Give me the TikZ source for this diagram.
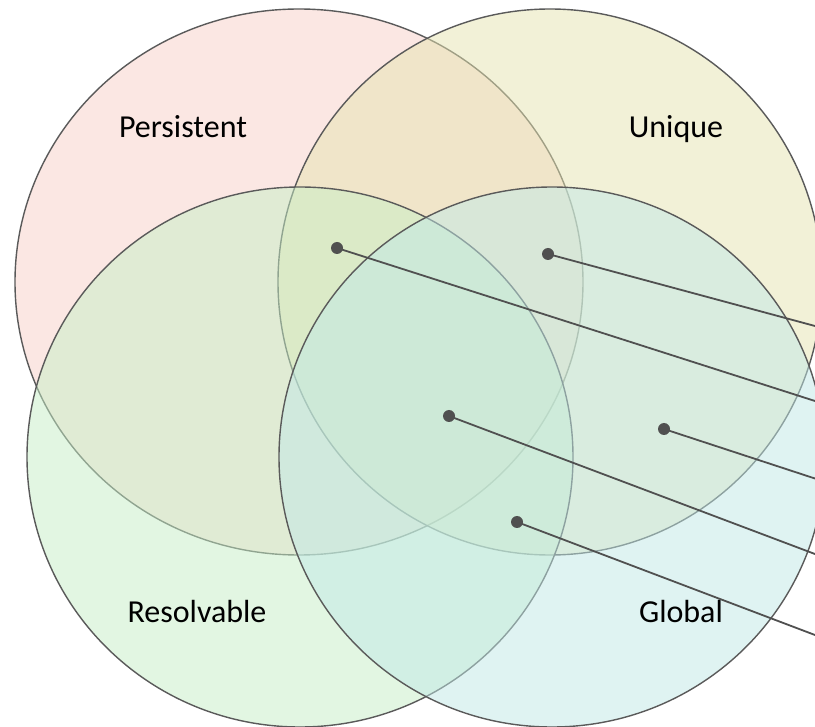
\documentclass[tikz,border=0pt]{standalone}
\usepackage{fontspec}
\setmainfont{Carlito}
\usetikzlibrary{shapes.geometric}

% base tints of the four sets (shown at half opacity)
\definecolor{pinkset}{RGB}{249,209,201}
\definecolor{yellowset}{RGB}{231,229,177}
\definecolor{greenset}{RGB}{199,239,199}
\definecolor{cyanset}{RGB}{193,233,231}
\definecolor{edgegray}{RGB}{90,90,90}
\definecolor{pingray}{RGB}{80,80,80}

\begin{document}
\begin{tikzpicture}[x=1pt,y=-1pt,
  setshape/.style={ellipse, draw=edgegray, line width=1.4pt, fill opacity=0.5,
                   draw opacity=1, inner sep=0pt, outer sep=0pt},
  settitle/.style={anchor=base, font=\fontsize{32}{38}\selectfont, text=black},
  pin/.style={circle, fill=pingray, inner sep=0pt, minimum size=12pt},
  leader/.style={draw=pingray, line width=1.8pt}]

\clip (0,0) rectangle (815,727);
\fill[white] (0,0) rectangle (815,727);

% the four overlapping sets
\node[setshape, fill=pinkset,   minimum width=568pt, minimum height=546pt] (persistent) at (299,282) {};
\node[setshape, fill=yellowset, minimum width=544pt, minimum height=546pt] (unique)     at (550,282) {};
\node[setshape, fill=greenset,  minimum width=546pt, minimum height=540pt] (resolvable) at (300,457) {};
\node[setshape, fill=cyanset,   minimum width=546pt, minimum height=540pt] (global)     at (552,457) {};

% set names
\node[settitle] (tPersistent) at (183,138) {Persistent};
\node[settitle] (tUnique)     at (676,138) {Unique};
\node[settitle] (tResolvable) at (197,622) {Resolvable};
\node[settitle] (tGlobal)     at (681,622) {Global};

% pins marking regions
\node[pin] (p1) at (337,248) {};
\node[pin] (p2) at (548,254) {};
\node[pin] (p3) at (449,416) {};
\node[pin] (p4) at (517,522) {};
\node[pin] (p5) at (664,429) {};

% free ends of the leader lines, past the right border
\coordinate (e1) at (825,404.2);
\coordinate (e2) at (825,328.7);
\coordinate (e3) at (825,557.8);
\coordinate (e4) at (825,638.8);
\coordinate (e5) at (825,481.8);

\draw[leader] (p1.center) -- (e1);
\draw[leader] (p2.center) -- (e2);
\draw[leader] (p3.center) -- (e3);
\draw[leader] (p4.center) -- (e4);
\draw[leader] (p5.center) -- (e5);
\end{tikzpicture}
\end{document}
